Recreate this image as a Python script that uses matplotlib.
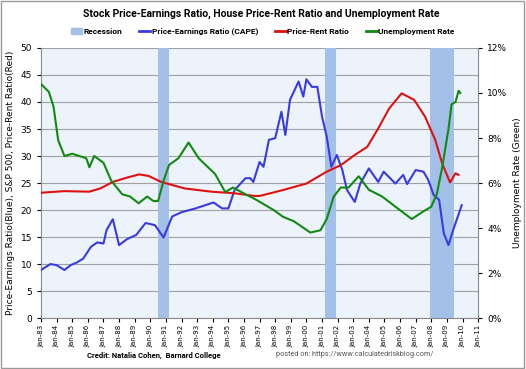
import matplotlib.pyplot as plt
from matplotlib.patches import Patch, Rectangle
from matplotlib.lines import Line2D
from matplotlib.ticker import FuncFormatter

label_font = ['Roboto', 'DejaVu Sans']

# Recessions (start, end as fractional years)
recessions = [(1990.5, 1991.2), (2001.2, 2001.9), (2007.9, 2009.45)]

# Price-Earnings Ratio (CAPE), blue
pe_years = [1983.0, 1983.6, 1984.0, 1984.5, 1984.9, 1985.3, 1985.7, 1986.2, 1986.6, 1987.0,
            1987.2, 1987.6, 1988.0, 1988.5, 1989.1, 1989.7, 1990.3, 1990.85, 1991.4, 1992.0,
            1992.9, 1994.05, 1994.6, 1995.0, 1995.4, 1996.1, 1996.4, 1996.6, 1997.0, 1997.25,
            1997.6, 1998.0, 1998.4, 1998.65, 1998.95, 1999.5, 1999.8, 2000.0, 2000.35, 2000.7,
            2001.0, 2001.3, 2001.6, 2001.95, 2002.3, 2002.6, 2003.1, 2003.45, 2004.0, 2004.6,
            2004.95, 2005.7, 2006.2, 2006.45, 2007.0, 2007.5, 2007.8, 2008.15, 2008.5, 2008.8,
            2009.1, 2009.4, 2009.95]
pe_vals = [8.9, 10.0, 9.8, 8.9, 9.8, 10.3, 11.0, 13.2, 14.0, 13.8,
           16.3, 18.3, 13.5, 14.6, 15.4, 17.6, 17.2, 14.9, 18.8, 19.6,
           20.3, 21.4, 20.3, 20.3, 23.7, 25.9, 25.9, 25.2, 28.9, 28.0,
           33.0, 33.3, 38.2, 33.9, 40.4, 43.8, 41.0, 44.2, 42.8, 42.8,
           37.3, 33.6, 28.0, 30.2, 27.4, 23.7, 21.5, 24.9, 27.7, 25.2,
           27.1, 24.9, 26.5, 24.8, 27.4, 27.1, 25.6, 22.8, 21.9, 15.7,
           13.5, 16.3, 20.9]

# Price-Rent Ratio, red
pr_years = [1983.0, 1984.5, 1986.1, 1986.8, 1987.6, 1988.5, 1989.3, 1989.9, 1990.7, 1992.2,
            1993.9, 1995.4, 1996.7, 1997.0, 1998.5, 2000.0, 2001.3, 2002.2, 2003.1, 2003.9,
            2004.6, 2005.3, 2006.1, 2006.9, 2007.6, 2008.25, 2008.7, 2009.2, 2009.55, 2009.75]
pr_vals = [23.2, 23.5, 23.4, 24.0, 25.2, 26.0, 26.6, 26.3, 25.2, 24.0,
           23.4, 23.1, 22.6, 22.6, 23.7, 24.9, 27.1, 28.3, 30.2, 31.7,
           35.1, 38.8, 41.6, 40.4, 37.3, 33.0, 28.6, 25.1, 26.8, 26.5]

# Unemployment Rate (%), green
un_years = [1983.0, 1983.5, 1983.8, 1984.1, 1984.5, 1985.0, 1985.9, 1986.1, 1986.4, 1987.0,
            1987.5, 1988.2, 1988.7, 1989.25, 1989.8, 1990.2, 1990.5, 1990.85, 1991.2, 1991.8,
            1992.45, 1993.1, 1994.15, 1994.8, 1995.3, 1996.1, 1996.8, 1997.9, 1998.5, 1999.2,
            2000.25, 2000.9, 2001.3, 2001.75, 2002.2, 2002.7, 2003.35, 2004.0, 2004.85, 2005.7,
            2006.75, 2007.4, 2008.0, 2008.35, 2008.7, 2009.1, 2009.3, 2009.55, 2009.75, 2009.85]
un_vals = [10.4, 10.05, 9.4, 7.9, 7.2, 7.3, 7.1, 6.7, 7.2, 6.9,
           6.1, 5.5, 5.4, 5.1, 5.4, 5.2, 5.2, 6.1, 6.8, 7.1,
           7.8, 7.1, 6.4, 5.6, 5.8, 5.5, 5.25, 4.8, 4.5, 4.3,
           3.8, 3.9, 4.4, 5.4, 5.8, 5.8, 6.3, 5.7, 5.4, 4.95,
           4.4, 4.7, 4.95, 5.5, 6.7, 8.4, 9.5, 9.6, 10.1, 10.0]

years = list(range(1983, 2012))
year_labels = ['Jan-%02d' % (y % 100) for y in years]

fig = plt.figure(figsize=(5.26, 3.69), dpi=100)
ax = fig.add_axes([0.078, 0.138, 0.831, 0.732])
ax.set_facecolor('#ecf3fb')

for start, end in recessions:
    ax.axvspan(start, end, color='#a3c1e8', zorder=1, lw=0)

ax.plot(pe_years, pe_vals, color='#3a3ae0', lw=1.5, zorder=3)
ax.plot(pr_years, pr_vals, color='#e01010', lw=1.5, zorder=3)

ax.set_xlim(1983, 2011)
ax.set_ylim(0, 50)
ax.set_yticks(range(0, 51, 5))
ax.set_xticks(years)
ax.set_xticklabels(year_labels, rotation=90, fontsize=5)
ax.tick_params(axis='y', labelsize=6.5, length=3)
ax.tick_params(axis='x', length=3, pad=2)
ax.grid(axis='y', color='#a0a0a0', lw=0.8, zorder=0.5)
ax.set_axisbelow(True)
for s in ['top', 'right']:
    ax.spines[s].set_visible(False)
for s in ['left', 'bottom']:
    ax.spines[s].set_color('#888888')
ax.set_ylabel('Price-Earnings Ratio(Blue), S&P 500, Price-Rent Ratio(Red)', fontsize=6.5)

ax2 = ax.twinx()
ax2.plot(un_years, un_vals, color='#118a11', lw=1.5, zorder=3)
ax2.set_ylim(0, 12)
ax2.set_yticks(range(0, 13, 2))
ax2.yaxis.set_major_formatter(FuncFormatter(lambda v, p: '%d%%' % v))
ax2.tick_params(axis='y', labelsize=6.5, length=3)
for s in ['top', 'left', 'bottom']:
    ax2.spines[s].set_visible(False)
ax2.spines['right'].set_color('#888888')
ax2.set_ylabel('Unemployment Rate (Green)', fontsize=6.5)

fig.text(0.497, 0.962, 'Stock Price-Earnings Ratio, House Price-Rent Ratio and Unemployment Rate',
         ha='center', va='center', fontsize=7.5, fontweight='bold', family=label_font)

handles = [Patch(color='#a3c1e8'),
           Line2D([], [], color='#3a3ae0', lw=2),
           Line2D([], [], color='#e01010', lw=2),
           Line2D([], [], color='#118a11', lw=2)]
labels = ['Recession', 'Price-Earnings Ratio (CAPE)', 'Price-Rent Ratio', 'Unemployment Rate']
fig.legend(handles, labels, loc='center', bbox_to_anchor=(0.5, 0.915), ncol=4, frameon=False,
           prop={'size': 6, 'weight': 'bold', 'family': label_font}, handlelength=1.3,
           columnspacing=2.0, handletextpad=0.2)

fig.text(0.293, 0.038, 'Credit: Natalia Cohen,  Barnard College', ha='center', va='center',
         fontsize=5.5, fontweight='bold', family=label_font)
fig.text(0.675, 0.038, 'posted on: https://www.calculatedriskblog.com/', ha='center', va='center',
         fontsize=5.2, color='#555555', family=label_font)

fig.add_artist(Rectangle((0.002, 0.003), 0.995, 0.994, transform=fig.transFigure,
                         fill=False, edgecolor='#999999', lw=1))

fig.savefig('out.png', dpi=100)
